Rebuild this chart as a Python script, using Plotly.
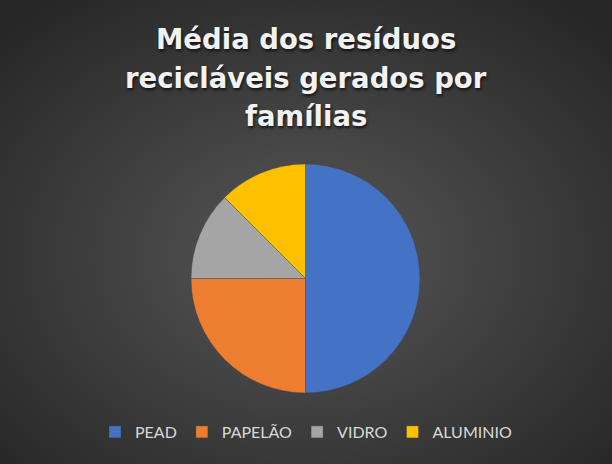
import base64
import plotly.graph_objects as go

# dados do gráfico
categorias = ["PEAD", "PAPELÃO", "VIDRO", "ALUMINIO"]
valores = [4, 2, 1, 1]
cores = ["#4472C4", "#ED7D31", "#A5A5A5", "#FFC000"]

titulo_linhas = ["Média dos resíduos", "recicláveis gerados por", "famílias"]

# fundo em gradiente radial (estilo Excel escuro)
svg = (
    '<svg xmlns="http://www.w3.org/2000/svg" width="612" height="464">'
    '<defs><radialGradient id="g" cx="50%" cy="55%" r="70%">'
    '<stop offset="0%" stop-color="#575757"/>'
    '<stop offset="100%" stop-color="#262626"/>'
    '</radialGradient></defs>'
    '<rect width="612" height="464" fill="url(#g)"/></svg>'
)
bg_uri = "data:image/svg+xml;base64," + base64.b64encode(svg.encode()).decode()

fig = go.Figure()
fig.add_trace(go.Pie(
    labels=categorias,
    values=valores,
    sort=False,
    direction="clockwise",
    rotation=0,
    textinfo="none",
    hoverinfo="label+value+percent",
    marker=dict(colors=cores, line=dict(color="rgba(60,60,60,0.6)", width=0.6)),
    domain=dict(x=[191 / 612, 420 / 612], y=[71 / 464, 300 / 464]),
))

# título: uma anotação por linha para acertar o espaçamento
for i, linha in enumerate(titulo_linhas):
    fig.add_annotation(
        text=linha,
        xref="paper", yref="paper",
        x=0.5, xanchor="center",
        y=1 - (21 + 38.5 * i) / 464, yanchor="top",
        showarrow=False,
        font=dict(family="DejaVu Sans", size=27.5, color="#f2f2f2", weight="bold",
                  shadow="1px 2px 3px rgba(0,0,0,0.7)"),
    )

fig.update_layout(
    width=612, height=464,
    margin=dict(l=0, r=0, t=0, b=0),
    paper_bgcolor="#3a3a3a",
    images=[dict(source=bg_uri, xref="paper", yref="paper", x=0, y=1,
                 sizex=1, sizey=1, xanchor="left", yanchor="top",
                 sizing="stretch", layer="below")],
    legend=dict(
        orientation="h",
        x=0.5, xanchor="center",
        y=32 / 464, yanchor="middle",
        font=dict(family="Lato", size=16, color="#d9d9d9"),
        itemwidth=30,
        bgcolor="rgba(0,0,0,0)",
    ),
)

fig.write_html("out.html", config={"displayModeBar": False},
               post_script="document.body.style.margin='0';")
